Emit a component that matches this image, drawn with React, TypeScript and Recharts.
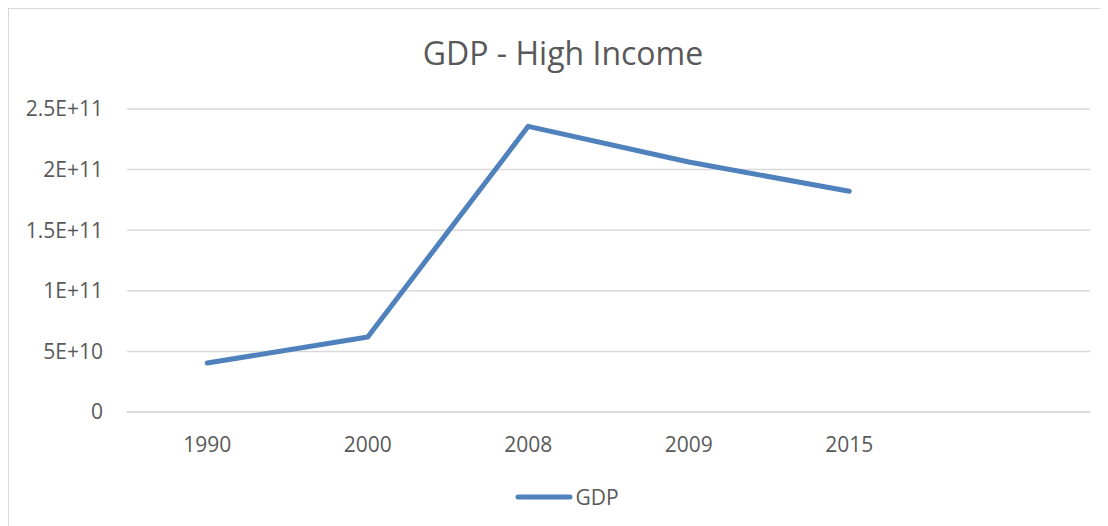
import { LineChart, Line, XAxis, YAxis, CartesianGrid, Legend } from 'recharts';

// Excel-style single-series line chart: GDP for the high income group

const YEARS = ['1990', '2000', '2008', '2009', '2015', ''];
const GDP = [4.04e10, 6.19e10, 2.357e11, 2.063e11, 1.821e11, null];

const Y_TICKS = [0, 5e10, 1e11, 1.5e11, 2e11, 2.5e11];
const Y_TICK_LABELS = ['0', '5E+10', '1E+11', '1.5E+11', '2E+11', '2.5E+11'];

const TITLE = 'GDP - High Income';
const SERIES_NAME = 'GDP';

const data = YEARS.map((year, i) => ({ year, gdp: GDP[i] }));

const TEXT = '#595959';
const GRID = '#d9d9d9';
const BLUE = '#4f81bd';
const FONT = '"Open Sans", "Liberation Sans", sans-serif';

function GdpLegend() {
  return (
    <div style={{ display: 'flex', justifyContent: 'center', alignItems: 'center', height: 30, paddingLeft: 8 }}>
      <svg width={60} height={10} style={{ display: 'block' }}>
        <line x1={3} y1={5} x2={55} y2={5} stroke={BLUE} strokeWidth={5} strokeLinecap="round" />
      </svg>
      <span style={{ fontSize: 21, color: TEXT, lineHeight: '30px' }}>{SERIES_NAME}</span>
    </div>
  );
}

export default function App() {
  return (
    <>
      <style>{'body{overflow:hidden}'}</style>
      <div
        style={{
          position: 'relative',
          width: 1108,
          height: 530,
          borderTop: `1px solid ${GRID}`,
          borderLeft: `1px solid ${GRID}`,
          background: '#fff',
          fontFamily: FONT,
        }}
      >
        <div
          style={{
            position: 'absolute',
            top: 28,
            left: 0,
            width: 1108,
            textAlign: 'center',
            fontSize: 32,
            lineHeight: 1,
            color: TEXT,
          }}
        >
          {TITLE}
        </div>
        <LineChart width={1108} height={517} data={data} margin={{ top: 100, right: 27, bottom: 14, left: 0 }}>
          <CartesianGrid vertical={false} stroke={GRID} strokeWidth={1.5} />
          <XAxis
            dataKey="year"
            scale="band"
            height={70}
            axisLine={{ stroke: GRID, strokeWidth: 1.5 }}
            tickLine={false}
            tickSize={0}
            tickMargin={25}
            interval={0}
            tick={{ fontSize: 21, fill: TEXT }}
          />
          <YAxis
            width={118}
            domain={[0, 2.5e11]}
            ticks={Y_TICKS}
            axisLine={false}
            tickLine={false}
            tickSize={0}
            tickMargin={24}
            tick={{ fontSize: 21, fill: TEXT }}
            tickFormatter={(v: number) => Y_TICK_LABELS[Y_TICKS.indexOf(v)] ?? String(v)}
          />
          <Legend verticalAlign="bottom" wrapperStyle={{ left: 0, width: 1108 }} content={<GdpLegend />} />
          <Line
            type="linear"
            dataKey="gdp"
            name={SERIES_NAME}
            stroke={BLUE}
            strokeWidth={5}
            strokeLinejoin="round"
            strokeLinecap="round"
            dot={false}
            activeDot={false}
            isAnimationActive={false}
          />
        </LineChart>
      </div>
    </>
  );
}
